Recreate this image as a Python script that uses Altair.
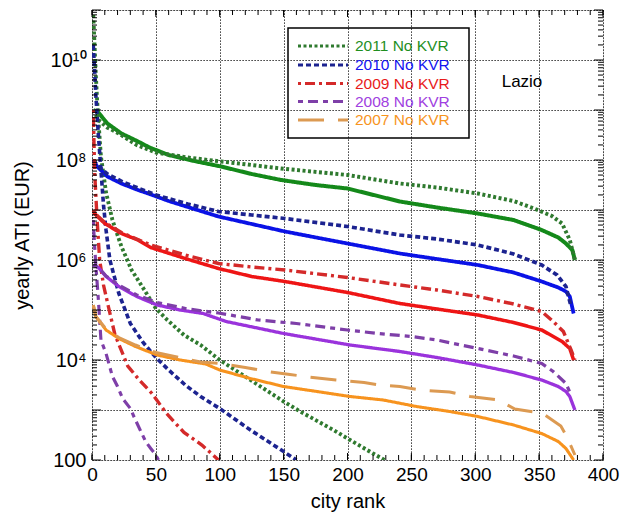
import altair as alt
import pandas as pd

# ---------------- data (rank, log10 of yearly ATI in EUR) ----------------
names = [
    "2011 KVR", "2011 No KVR", "2011 No KVR b",
    "2010 KVR", "2010 No KVR", "2010 No KVR b",
    "2009 KVR", "2009 No KVR", "2009 No KVR b",
    "2008 KVR", "2008 No KVR", "2008 No KVR b",
    "2007 KVR", "2007 No KVR",
]

g_kvr_x = [1, 5, 12, 23, 36, 45, 60, 80, 101, 125, 148, 175, 200, 241, 270, 302, 330, 352, 365, 371, 376, 378]
g_kvr_e = [9.0, 8.95, 8.73, 8.53, 8.37, 8.25, 8.1, 7.98, 7.87, 7.72, 7.6, 7.5, 7.43, 7.17, 7.05, 6.93, 6.8, 6.6, 6.45, 6.33, 6.2, 6.0]
g_no_x = [1, 5, 12, 21, 35, 50, 75, 101, 125, 148, 200, 241, 270, 302, 330, 346, 360, 368, 374, 378]
g_no_e = [9.0, 8.8, 8.65, 8.53, 8.3, 8.15, 8.05, 7.97, 7.9, 7.83, 7.7, 7.53, 7.45, 7.33, 7.18, 7.03, 6.88, 6.73, 6.4, 6.0]
g_st_x = [1, 2, 3, 4, 5, 7, 11, 16, 23, 31, 41, 50, 59, 72, 85, 100, 124, 150, 163, 189, 202, 220, 229]
g_st_e = [10.9, 10.3, 9.7, 9.2, 8.8, 8.07, 7.35, 6.8, 6.27, 5.8, 5.4, 5.03, 4.8, 4.5, 4.3, 4.0, 3.6, 3.17, 2.97, 2.6, 2.4, 2.13, 2.0]

b_kvr_x = [1, 4, 12, 23, 36, 44, 60, 80, 99, 125, 151, 200, 241, 270, 302, 330, 352, 365, 371, 374, 377]
b_kvr_e = [8.0, 7.87, 7.67, 7.53, 7.4, 7.33, 7.18, 7.02, 6.87, 6.72, 6.57, 6.33, 6.13, 6.02, 5.9, 5.75, 5.57, 5.45, 5.37, 5.27, 4.93]
b_no_x = [1, 4, 12, 25, 50, 75, 99, 125, 151, 200, 241, 270, 302, 330, 352, 364, 371, 375]
b_no_e = [8.0, 7.9, 7.72, 7.55, 7.3, 7.12, 6.97, 6.9, 6.83, 6.67, 6.5, 6.42, 6.3, 6.12, 5.9, 5.7, 5.47, 5.07]
b_st_x = [1, 2, 3, 4, 5, 7, 9, 11, 14, 21, 30, 40, 50, 60, 73, 85, 100, 124, 150, 160]
b_st_e = [10.3, 9.8, 9.3, 8.9, 8.5, 7.8, 7.1, 6.6, 6.0, 5.33, 4.73, 4.35, 4.05, 3.8, 3.5, 3.27, 3.03, 2.6, 2.17, 2.0]

r_kvr_x = [1, 2, 10, 23, 36, 46, 73, 99, 125, 151, 200, 241, 270, 302, 330, 352, 368, 374, 377]
r_kvr_e = [7.0, 6.93, 6.73, 6.53, 6.4, 6.25, 6.03, 5.83, 5.67, 5.57, 5.35, 5.13, 5.02, 4.9, 4.75, 4.6, 4.37, 4.23, 4.0]
r_no_x = [1, 2, 10, 23, 46, 73, 99, 125, 151, 200, 241, 270, 302, 330, 352, 361, 369, 375, 378]
r_no_e = [7.0, 6.93, 6.75, 6.55, 6.3, 6.1, 5.93, 5.86, 5.8, 5.65, 5.5, 5.4, 5.27, 5.12, 4.97, 4.77, 4.57, 4.2, 4.0]
r_st_x = [1, 2, 4, 6, 9, 13, 18, 28, 37, 47, 58, 72, 86, 99]
r_st_e = [9.0, 7.8, 6.8, 6.0, 5.5, 5.05, 4.5, 3.88, 3.6, 3.33, 2.94, 2.55, 2.3, 2.0]

p_kvr_x = [1, 5, 11, 21, 35, 51, 69, 87, 105, 150, 202, 241, 270, 302, 330, 352, 365, 371, 374, 378]
p_kvr_e = [5.9, 5.85, 5.67, 5.47, 5.27, 5.1, 5.0, 4.93, 4.77, 4.53, 4.3, 4.17, 4.05, 3.9, 3.75, 3.6, 3.47, 3.37, 3.27, 3.0]
p_no_x = [1, 5, 11, 21, 35, 51, 75, 99, 130, 160, 200, 224, 250, 270, 302, 330, 352, 361, 371, 375]
p_no_e = [5.9, 5.85, 5.68, 5.5, 5.3, 5.15, 5.02, 4.94, 4.8, 4.73, 4.6, 4.53, 4.47, 4.4, 4.23, 4.08, 3.93, 3.77, 3.53, 3.3]
p_st_x = [1, 2, 3, 5, 7, 11, 16, 20, 24, 30, 34, 42, 46, 50, 52]
p_st_e = [6.8, 6.3, 5.9, 5.2, 4.4, 4.13, 3.67, 3.47, 3.23, 3.03, 2.8, 2.37, 2.23, 2.1, 2.0]

o_kvr_x = [1, 3, 11, 21, 34, 51, 69, 89, 100, 124, 150, 176, 202, 228, 254, 280, 302, 330, 352, 365, 371, 377]
o_kvr_e = [5.1, 4.87, 4.6, 4.43, 4.27, 4.1, 4.0, 3.92, 3.8, 3.63, 3.47, 3.37, 3.27, 3.2, 3.07, 2.97, 2.87, 2.7, 2.53, 2.37, 2.23, 2.0]
o_no_x = [1, 3, 11, 21, 34, 50, 85, 100, 120, 140, 155, 170, 191, 213, 225, 241, 257, 280, 296, 318, 331, 353, 367, 372, 378]
o_no_e = [5.1, 4.87, 4.62, 4.45, 4.3, 4.15, 3.96, 3.93, 3.85, 3.76, 3.71, 3.66, 3.6, 3.55, 3.5, 3.47, 3.4, 3.36, 3.27, 3.2, 3.02, 2.93, 2.68, 2.45, 2.1]

series_x = [g_kvr_x, g_no_x, g_st_x, b_kvr_x, b_no_x, b_st_x, r_kvr_x, r_no_x, r_st_x,
            p_kvr_x, p_no_x, p_st_x, o_kvr_x, o_no_x]
series_e = [g_kvr_e, g_no_e, g_st_e, b_kvr_e, b_no_e, b_st_e, r_kvr_e, r_no_e, r_st_e,
            p_kvr_e, p_no_e, p_st_e, o_kvr_e, o_no_e]

legend_labels = ["2011 No KVR", "2010 No KVR", "2009 No KVR", "2008 No KVR", "2007 No KVR"]
x_tick_labels = list(range(0, 401, 50))
x_minor = list(range(0, 401, 10))
y_decades = [10.0 ** k for k in range(2, 12)]
y_minor = [m * 10.0 ** k for k in range(2, 11) for m in range(2, 10)]

# ---------------- styles ----------------
SOLID = [1, 0]
D11 = [3, 2.5]
D10 = [5, 3]
D09 = [3, 4, 10, 4]
D08 = [5, 5, 10, 5]
D07 = [26, 14]
colors = ["#14891a", "#2f7a2f", "#2f7a2f",
          "#0a12e6", "#1c2390", "#1c2390",
          "#ee1515", "#d42a2a", "#d42a2a",
          "#9a33dc", "#7e3fa8", "#7e3fa8",
          "#f7931e", "#dc9a52"]
dashes = [SOLID, D11, D11, SOLID, D10, D10, SOLID, D09, D09, SOLID, D08, D08, SOLID, D07]
widths = [4, 3, 3, 4, 3, 3, 4, 3, 3, 4, 3, 3, 4, 3]
legend_colors = ["#1f8f1f", "#1414f0", "#e81a1a", "#a040e0", "#f7941d"]
legend_line_colors = ["#2f7a2f", "#1c2390", "#d42a2a", "#7e3fa8", "#dc9a52"]
legend_dashes = [D11, D10, D09, D08, D07]
legend_rows = [36, 55, 73.5, 91.5, 110]

FONT = "Liberation Sans"
W, H = 511, 450

rows = []
for nm, xs, es in zip(names, series_x, series_e):
    for xv, ev in zip(xs, es):
        rows.append({"series": nm, "rank": xv, "value": 10.0 ** ev})
df = pd.DataFrame(rows)

xscale = alt.Scale(domain=[0, 400], nice=False, zero=False)
yscale = alt.Scale(type="log", domain=[1e2, 1e11], nice=False)

label_expr = ("round(log(datum.value)/LN10) == 2 ? '100' : "
              "round(log(datum.value)/LN10) == 4 ? '10⁴' : "
              "round(log(datum.value)/LN10) == 6 ? '10⁶' : "
              "round(log(datum.value)/LN10) == 8 ? '10⁸' : "
              "round(log(datum.value)/LN10) == 10 ? '10¹⁰' : ''")

xaxis = alt.Axis(
    values=x_tick_labels, title="city rank", grid=True, gridDash=[1.2, 1.8],
    gridColor="black", gridWidth=1, ticks=False, domain=False,
    labelFontSize=19, labelPadding=5, labelFlush=False, labelOverlap=False,
    labelColor="black", titleColor="black", titleFontSize=20,
    titleFontWeight="normal", titleY=41, titleBaseline="middle")
yaxis = alt.Axis(
    values=y_decades, labelExpr=label_expr, title="yearly ATI (EUR)", grid=True,
    gridDash=[1.2, 1.8], gridColor="black", gridWidth=1, ticks=False, domain=False,
    labelFontSize=20, labelPadding=6, labelFlush=False, labelOverlap=False,
    labelColor="black", titleColor="black", titleFontSize=20,
    titleFontWeight="normal", titleX=-70, titleY=225, titleAngle=270,
    titleBaseline="middle", titleAlign="center")

lines = alt.Chart(df).mark_line(clip=True, strokeCap="butt").encode(
    x=alt.X("rank:Q", scale=xscale, axis=xaxis),
    y=alt.Y("value:Q", scale=yscale, axis=yaxis),
    color=alt.Color("series:N", scale=alt.Scale(domain=names, range=colors), legend=None),
    strokeDash=alt.StrokeDash("series:N", scale=alt.Scale(domain=names, range=dashes), legend=None),
    strokeWidth=alt.StrokeWidth("series:N", scale=alt.Scale(domain=names, range=widths), legend=None),
    order=alt.Order("rank:Q"),
)

xmin_df = pd.DataFrame({"rank": x_minor})
xmaj_df = pd.DataFrame({"rank": x_tick_labels})
ymin_df = pd.DataFrame({"value": y_minor})
ymaj_df = pd.DataFrame({"value": y_decades})

def xt(d, y0, y1):
    return alt.Chart(d).mark_rule(color="black", strokeWidth=1).encode(
        x=alt.X("rank:Q", scale=xscale, axis=xaxis), y=alt.value(y0), y2=alt.value(y1))

def yt(d, x0, x1):
    return alt.Chart(d).mark_rule(color="black", strokeWidth=1).encode(
        y=alt.Y("value:Q", scale=yscale, axis=yaxis), x=alt.value(x0), x2=alt.value(x1))

ticks = [
    xt(xmin_df, H, H - 5), xt(xmaj_df, H, H - 7),
    xt(xmin_df, 0, 5), xt(xmaj_df, 0, 7),
    yt(ymin_df, 0, 5), yt(ymaj_df, 0, 9),
    yt(ymin_df, W, W - 5), yt(ymaj_df, W, W - 9),
]

box = alt.Chart(pd.DataFrame({"a": [0]})).mark_rect(
    filled=False, stroke="black", strokeWidth=1.5).encode(
    x=alt.value(196), x2=alt.value(377), y=alt.value(18), y2=alt.value(128))

legend_layers = []
for lab, tc, lc, ld, ry in zip(legend_labels, legend_colors, legend_line_colors,
                               legend_dashes, legend_rows):
    d = pd.DataFrame({"label": [lab]})
    legend_layers.append(alt.Chart(d).mark_rule(
        color=lc, strokeDash=ld, strokeWidth=3, strokeCap="butt").encode(
        x=alt.value(206), x2=alt.value(256), y=alt.value(ry)))
    legend_layers.append(alt.Chart(d).mark_text(
        align="left", baseline="middle", fontSize=15.5, font=FONT, color=tc).encode(
        text="label:N", x=alt.value(263), y=alt.value(ry)))

region_df = pd.DataFrame({"region": ["Lazio"]})
region = alt.Chart(region_df).mark_text(
    align="center", baseline="middle", fontSize=17, font=FONT, color="black").encode(
    text="region:N", x=alt.value(430), y=alt.value(72))

chart = alt.layer(lines, *ticks, box, *legend_layers, region).properties(
    width=W, height=H,
    padding={"left": 92, "top": 10, "right": 20, "bottom": 56},
    autosize=alt.AutoSizeParams(type="none"),
).configure_view(stroke="black", strokeWidth=1.5).configure(
    font=FONT, background="white")

chart.save("out.html", embed_options={"renderer": "svg", "actions": False})
